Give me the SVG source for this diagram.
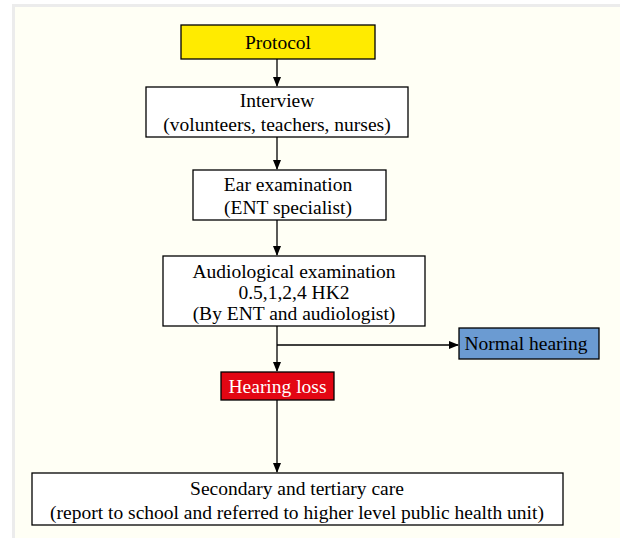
<svg xmlns="http://www.w3.org/2000/svg" width="620" height="541" viewBox="0 0 620 541">
<style>
.box{stroke:#000;stroke-width:1.3}
.t{font-family:'Liberation Serif','Times New Roman',Tinos,'DejaVu Serif',serif;font-size:19.5px;text-anchor:middle;fill:#000}
.w{fill:#fff}
.c{stroke:#000;stroke-width:1.3;fill:none}
</style>
<defs>
<marker id="ah" markerWidth="10" markerHeight="10" refX="9" refY="5" orient="auto" markerUnits="userSpaceOnUse">
<path d="M0,1 L10,5 L0,9 Z" fill="#000"/>
</marker>
</defs>
<rect x="0" y="0" width="620" height="541" fill="#fff"/>
<rect x="12" y="4" width="608" height="534" fill="#ececec"/>
<rect x="15" y="7" width="605" height="531" fill="#fffff5"/>
<g id="connectors">
<line class="c" x1="277" y1="59" x2="277" y2="86" marker-end="url(#ah)"/>
<line class="c" x1="277" y1="137" x2="277" y2="169" marker-end="url(#ah)"/>
<line class="c" x1="277" y1="220" x2="277" y2="255" marker-end="url(#ah)"/>
<line class="c" x1="277" y1="326" x2="277" y2="371" marker-end="url(#ah)"/>
<line class="c" x1="277" y1="345" x2="458" y2="345" marker-end="url(#ah)"/>
<line class="c" x1="277" y1="400" x2="277" y2="472" marker-end="url(#ah)"/>
</g>
<g id="protocol">
<rect class="box" x="181" y="25" width="194" height="34" fill="#ffeb00"/>
<text class="t" x="278" y="49">Protocol</text>
</g>
<g id="interview">
<rect class="box" x="146" y="87" width="262" height="50" fill="#fff"/>
<text class="t" x="277" y="107">Interview</text>
<text class="t" x="277" y="131">(volunteers, teachers, nurses)</text>
</g>
<g id="ear">
<rect class="box" x="193" y="170" width="193" height="50" fill="#fff"/>
<text class="t" x="288" y="191">Ear examination</text>
<text class="t" x="288" y="214">(ENT specialist)</text>
</g>
<g id="audio">
<rect class="box" x="163" y="256" width="262" height="70" fill="#fff"/>
<text class="t" x="294" y="278">Audiological examination</text>
<text class="t" x="294" y="299">0.5,1,2,4 HK2</text>
<text class="t" x="294" y="320">(By ENT and audiologist)</text>
</g>
<g id="normal">
<rect class="box" x="459" y="328" width="140" height="31" fill="#6b9bd2"/>
<text class="t" x="526" y="350">Normal hearing</text>
</g>
<g id="loss">
<rect class="box" x="221" y="372" width="113" height="28" fill="#e30613"/>
<text class="t w" x="277.5" y="393">Hearing loss</text>
</g>
<g id="care">
<rect class="box" x="32" y="473" width="531" height="52" fill="#fff"/>
<text class="t" x="297" y="495">Secondary and tertiary care</text>
<text class="t" x="297" y="519">(report to school and referred to higher level public health unit)</text>
</g>
</svg>
